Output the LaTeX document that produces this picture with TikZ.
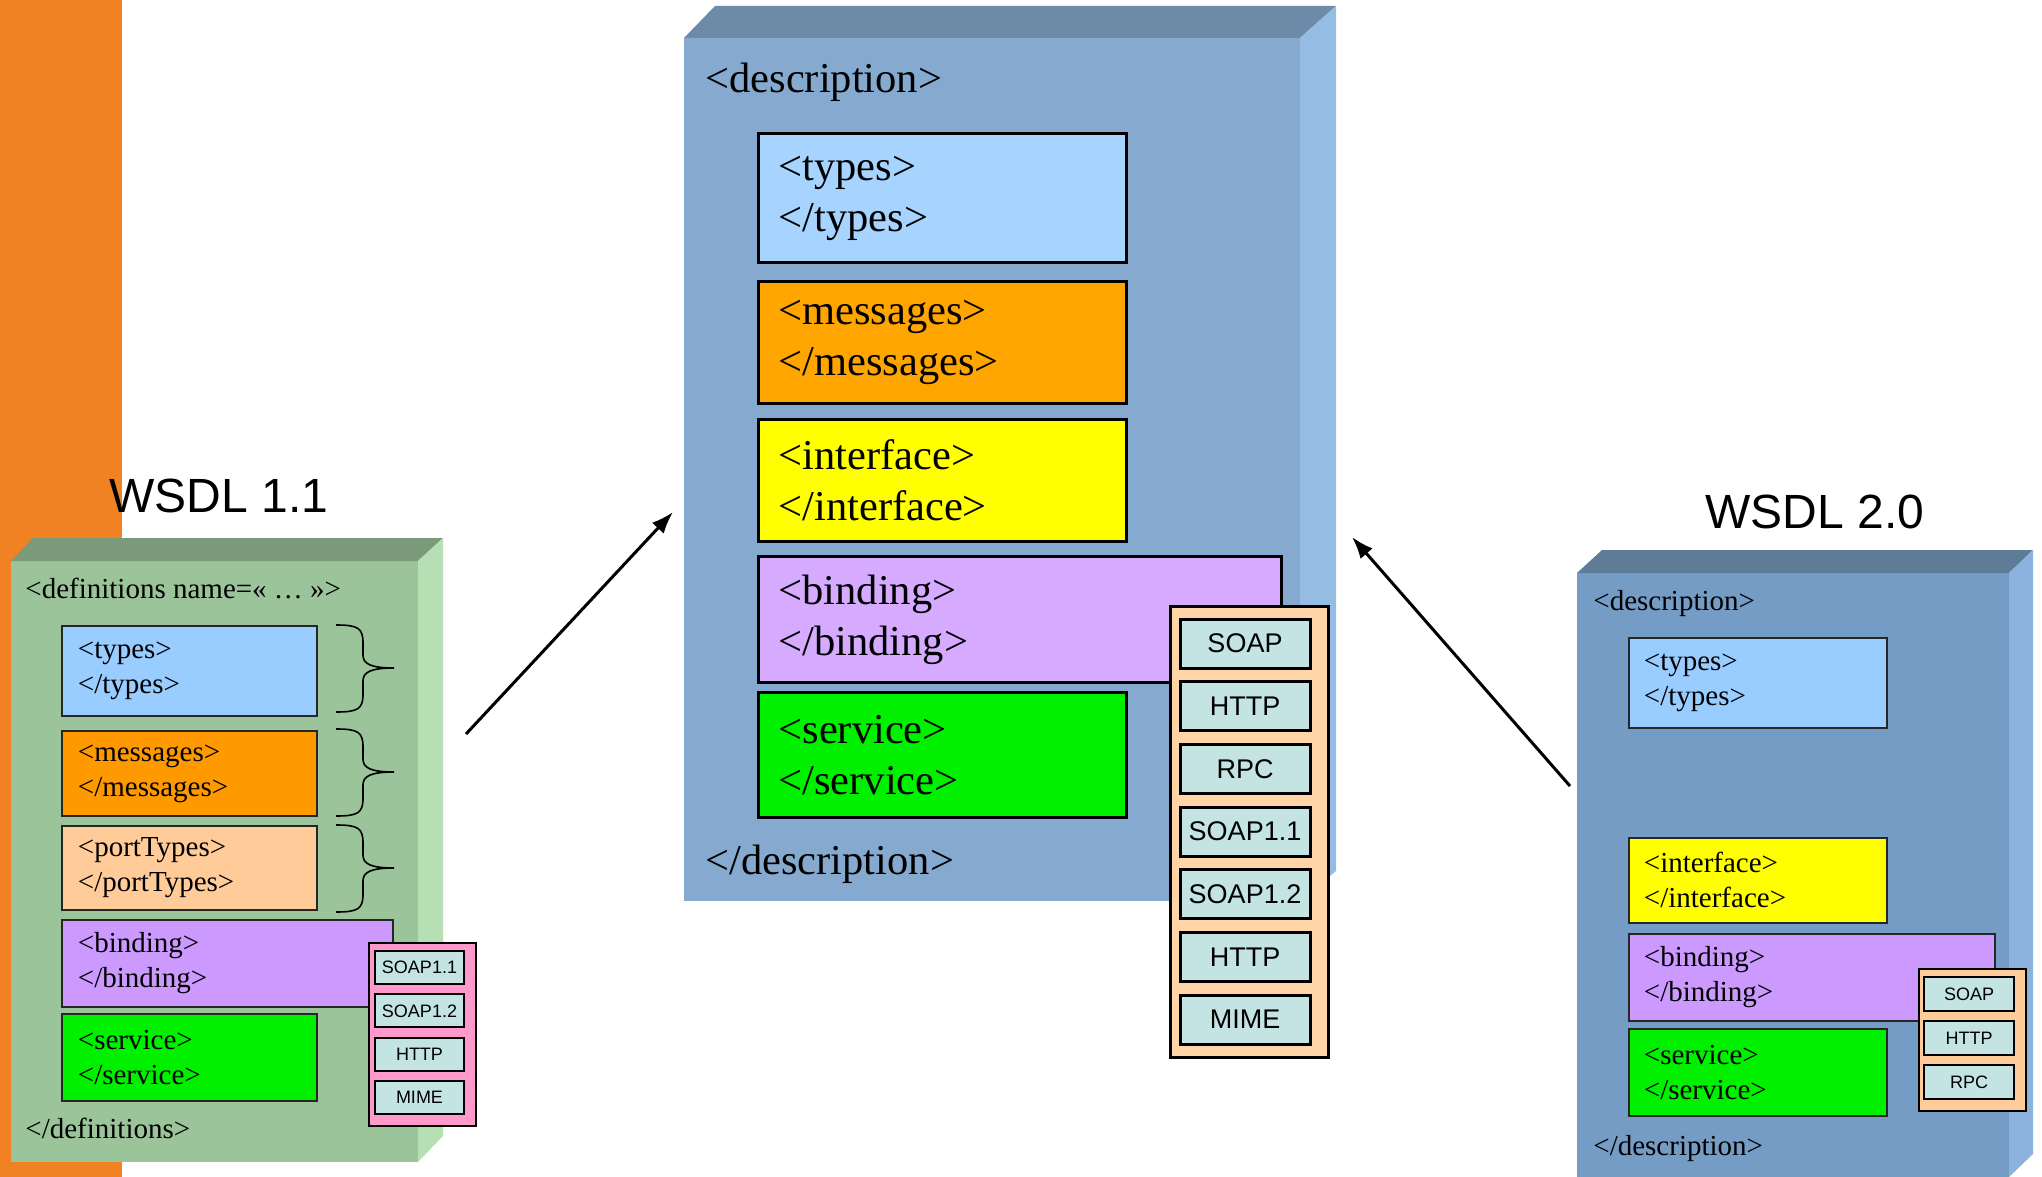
\documentclass[tikz,border=0pt]{standalone}
\usepackage{fontspec}
\setmainfont{Liberation Serif}
\setsansfont{Liberation Sans}
\usetikzlibrary{arrows.meta}

\definecolor{orangebar}{HTML}{F08224}
\definecolor{greenfront}{HTML}{9CC49A}
\definecolor{greentop}{HTML}{7B9A7A}
\definecolor{greenside}{HTML}{B6E0B4}
\definecolor{midfront}{HTML}{86AACF}
\definecolor{midtop}{HTML}{6C8BA8}
\definecolor{midside}{HTML}{95BDE3}
\definecolor{newfront}{HTML}{749CC4}
\definecolor{newtop}{HTML}{5E7C98}
\definecolor{newside}{HTML}{8BB3DE}
\definecolor{typesbig}{HTML}{A6D4FF}
\definecolor{typessmall}{HTML}{99CCFF}
\definecolor{msgbig}{HTML}{FFA500}
\definecolor{msgsmall}{HTML}{FF9900}
\definecolor{porttypes}{HTML}{FFCC99}
\definecolor{iface}{HTML}{FFFF00}
\definecolor{bindbig}{HTML}{D5AAFF}
\definecolor{bindsmall}{HTML}{CC99FF}
\definecolor{servicegreen}{HTML}{00F000}
\definecolor{pinkbox}{HTML}{FF99CC}
\definecolor{protobig}{HTML}{FFD5A8}
\definecolor{protosmall}{HTML}{FFCC99}
\definecolor{itemcyan}{HTML}{C4E4E4}

\tikzset{
  big tag/.style={draw=black, line width=1.5pt, anchor=north west, align=left,
    inner xsep=10pt, inner ysep=0pt, text width=164pt,
    font=\fontsize{21.25}{25.5}\selectfont},
  small tag/.style={draw=black!85, line width=0.9pt, anchor=north west, align=left,
    inner xsep=8pt, inner ysep=0pt, text width=111.5pt,
    font=\fontsize{14.5}{17.5}\selectfont},
  tag text/.style={anchor=base west, inner sep=0pt},
  proto/.style={draw=black, fill=itemcyan, inner sep=0pt, font=\sffamily},
  wire/.style={line width=1.5pt, -{Latex[length=11pt,width=8pt]}},
  brace/.style={line width=0.8pt},
}

\begin{document}
\begin{tikzpicture}[x=0.5pt, y=-0.5pt]
\useasboundingbox (0,0) rectangle (2042,1177);

\fill[orangebar] (0,0) rectangle (122,1177);

% WSDL 1.1
\node[anchor=base, inner sep=0pt, font=\sffamily\fontsize{24}{28}\selectfont] (oldtitle) at (219,512) {WSDL 1.1};
\fill[greenfront] (11,561) rectangle (418,1162);
\fill[greentop] (11,561) -- (33,538) -- (443,538) -- (418,561) -- cycle;
\fill[greenside] (418,561) -- (443,538) -- (443,1136) -- (418,1162) -- cycle;

\node[tag text, font=\fontsize{14.5}{17.5}\selectfont] (defopen) at (25,598) {<definitions name=« … »>};
\node[small tag, fill=typessmall, minimum height=45pt] (ltypes) at (61,625) {<types>\\</types>};
\node[small tag, fill=msgsmall, minimum height=42.5pt] (lmsg) at (61,730) {<messages>\\</messages>};
\node[small tag, fill=porttypes, minimum height=42pt] (lport) at (61,825) {<portTypes>\\</portTypes>};
\node[small tag, fill=bindsmall, minimum height=43.5pt, text width=149.5pt] (lbind) at (61,919) {<binding>\\</binding>};
\node[small tag, fill=servicegreen, minimum height=43.5pt] (lserv) at (61,1013) {<service>\\</service>};
\node[tag text, font=\fontsize{14.5}{17.5}\selectfont] (defclose) at (25,1138) {</definitions>};

\foreach \y in {625,729,825}{
  \draw[brace] (336,\y) .. controls (358,\y) and (363,\y+3) .. (363,\y+18) -- (363,\y+30)
    .. controls (363,\y+39) and (371,\y+43) .. (394,\y+43)
    .. controls (371,\y+43) and (363,\y+47) .. (363,\y+56) -- (363,\y+69)
    .. controls (363,\y+84) and (358,\y+87) .. (336,\y+87);
}

\node[draw=black, fill=pinkbox, line width=0.9pt, anchor=north west, inner sep=0pt,
  minimum width=53.5pt, minimum height=91.5pt] (lwires) at (368,942) {};
\foreach \lbl [count=\i from 0] in {SOAP1.1,SOAP1.2,HTTP,MIME}
  \node[proto, line width=0.9pt, minimum width=44.5pt, minimum height=16.5pt,
    font=\sffamily\fontsize{9}{10}\selectfont] (lproto\i) at (419.5,967.5+\i*43.3) {\lbl};

% WSDL 2.0 in the middle
\fill[midfront] (684,38) rectangle (1300,901);
\fill[midtop] (684,38) -- (715,6) -- (1336,6) -- (1300,38) -- cycle;
\fill[midside] (1300,38) -- (1336,6) -- (1336,871) -- (1300,901) -- cycle;

\node[tag text, font=\fontsize{21.25}{25}\selectfont] (descopen) at (705,93) {<description>};
\node[big tag, fill=typesbig, minimum height=64.5pt] (ctypes) at (757,132) {<types>\\</types>};
\node[big tag, fill=msgbig, minimum height=61pt] (cmsg) at (757,280) {<messages>\\</messages>};
\node[big tag, fill=iface, minimum height=61pt] (ciface) at (757,418) {<interface>\\</interface>};
\node[big tag, fill=bindbig, minimum height=63pt, text width=241.5pt] (cbind) at (757,555) {<binding>\\</binding>};
\node[big tag, fill=servicegreen, minimum height=62.5pt] (cserv) at (757,691) {<service>\\</service>};
\node[tag text, font=\fontsize{21.25}{25}\selectfont] (descclose) at (705,874) {</description>};

\node[draw=black, fill=protobig, line width=1.5pt, anchor=north west, inner sep=0pt,
  minimum width=79pt, minimum height=225.5pt] (cwires) at (1169,605) {};
\foreach \lbl [count=\i from 0] in {SOAP,HTTP,RPC,SOAP1.1,SOAP1.2,HTTP,MIME}
  \node[proto, line width=1.5pt, minimum width=65pt, minimum height=24.5pt,
    font=\sffamily\fontsize{13.5}{15}\selectfont] (cproto\i) at (1245,643.5+\i*62.7) {\lbl};

% WSDL 2.0 on the right
\node[anchor=base, inner sep=0pt, font=\sffamily\fontsize{24}{28}\selectfont] (newtitle) at (1815,528) {WSDL 2.0};
\fill[newfront] (1577,573) rectangle (2009,1177);
\fill[newtop] (1577,573) -- (1602,550) -- (2033,550) -- (2009,573) -- cycle;
\fill[newside] (2009,573) -- (2033,550) -- (2033,1154) -- (2009,1177) -- cycle;

\node[tag text, font=\fontsize{14.5}{17.5}\selectfont] (ropen) at (1593,610) {<description>};
\node[small tag, fill=typessmall, minimum height=45pt, inner xsep=7.5pt, text width=114pt] (rtypes) at (1628,637) {<types>\\</types>};
\node[small tag, fill=iface, minimum height=42.5pt, inner xsep=7.5pt, text width=114pt] (riface) at (1628,837) {<interface>\\</interface>};
\node[small tag, fill=bindsmall, minimum height=43.5pt, inner xsep=7.5pt, text width=168pt] (rbind) at (1628,933) {<binding>\\</binding>};
\node[small tag, fill=servicegreen, minimum height=43.5pt, inner xsep=7.5pt, text width=114pt] (rserv) at (1628,1028) {<service>\\</service>};
\node[tag text, font=\fontsize{14.5}{17.5}\selectfont] (rclose) at (1593,1155) {</description>};

\node[draw=black, fill=protosmall, line width=0.9pt, anchor=north west, inner sep=0pt,
  minimum width=53.5pt, minimum height=71pt] (rwires) at (1918,968) {};
\foreach \lbl [count=\i from 0] in {SOAP,HTTP,RPC}
  \node[proto, line width=0.9pt, minimum width=45pt, minimum height=17pt,
    font=\sffamily\fontsize{9}{10}\selectfont] (rproto\i) at (1969,994+\i*44) {\lbl};

% arrows towards the middle
\coordinate (oldtail) at (466,734);
\coordinate (oldhead) at (673,512);
\coordinate (newtail) at (1570,786);
\coordinate (newhead) at (1352,537);
\draw[wire] (oldtail) -- (oldhead);
\draw[wire] (newtail) -- (newhead);
\end{tikzpicture}
\end{document}
